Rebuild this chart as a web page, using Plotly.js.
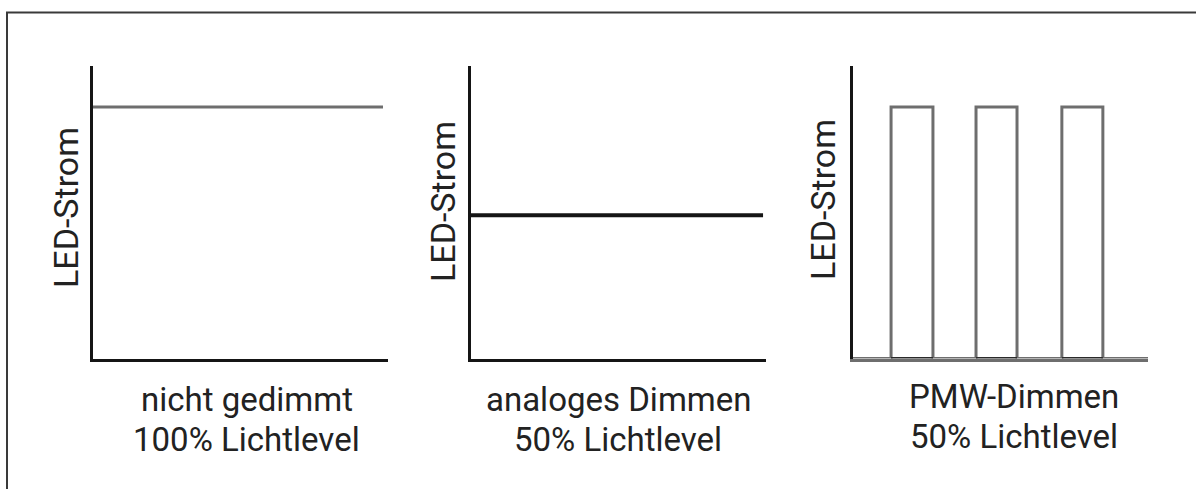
<!DOCTYPE html>
<html>
<head>
<meta charset="utf-8">
<script src="https://cdn.plot.ly/plotly-3.0.1.min.js"></script>
<style>html,body{margin:0;padding:0;background:#fff;}#chart{width:1196px;height:489px;}</style>
</head>
<body>
<div id="chart"></div>
<script>
// ---- data (axis scale 0..100) ----
const panelTitlesLine1 = ["nicht gedimmt", "analoges Dimmen", "PMW-Dimmen"];
const panelTitlesLine2 = ["100% Lichtlevel", "50% Lichtlevel", "50% Lichtlevel"];
const yLabel = "LED-Strom";

const fullX = [0, 98.3];
const fullY = [86, 86];

const analogX = [0, 99];
const analogY = [49, 49];

const pulseStart = [12.9, 41.7, 70.8];
const pulseEnd = [27.1, 55.6, 84.7];
const pulseHigh = 86;
const pulseLow = 0;
const pwmXmin = 0, pwmXmax = 100;

// build PWM waveform from pulse edges
const pwmX = [pwmXmin], pwmY = [pulseLow];
const botX = [], botY = [];
for (let i = 0; i < pulseStart.length; i++) {
  pwmX.push(pulseStart[i], pulseStart[i], pulseEnd[i], pulseEnd[i]);
  pwmY.push(pulseLow, pulseHigh, pulseHigh, pulseLow);
  botX.push(pulseStart[i], pulseEnd[i], null);
  botY.push(pulseLow, pulseLow, null);
}
pwmX.push(pwmXmax); pwmY.push(pulseLow);

const W = 1196, H = 489;
const px = v => v / W;
const py = v => 1 - v / H;

const gray = "#6e6e6e";
const ink = "#151515";
const textCol = "#222";
const FONT = "Roboto, 'Open Sans', sans-serif";

const traces = [
  {x: fullX, y: fullY, xaxis: "x", yaxis: "y", mode: "lines",
   line: {color: gray, width: 3}, hoverinfo: "skip"},
  {x: analogX, y: analogY, xaxis: "x2", yaxis: "y2", mode: "lines",
   line: {color: ink, width: 4}, hoverinfo: "skip"},
  {x: pwmX, y: pwmY, xaxis: "x3", yaxis: "y3", mode: "lines",
   line: {color: gray, width: 3}, hoverinfo: "skip", cliponaxis: false},
  {x: botX, y: botY, xaxis: "x3", yaxis: "y3", mode: "lines",
   line: {color: "#2a2a2a", width: 3}, hoverinfo: "skip", cliponaxis: false}
];

const yDom = [py(358.5), py(66)];
function xa(d, lineColor) {
  return {domain: d, range: [0, 100], showline: true, linecolor: lineColor, linewidth: 3,
    showgrid: false, zeroline: false, showticklabels: false, ticks: "", fixedrange: true,
    layer: "below traces"};
}
function ya(d) {
  return {domain: d, range: [0, 100], showline: true, linecolor: ink, linewidth: 3,
    showgrid: false, zeroline: false, showticklabels: false, ticks: "", fixedrange: true};
}

const labelX = [66, 443, 823];
const labelY = [208, 201, 200];
const line1X = [247, 619, 1014];
const line2X = [246, 618, 1014];
const line1Y = [399, 399, 396];
const line2Y = [439, 439, 436];

const annotations = [];
for (let i = 0; i < 3; i++) {
  annotations.push({xref: "paper", yref: "paper", x: px(labelX[i]), y: py(labelY[i]),
    text: yLabel, textangle: -90, showarrow: false, xanchor: "center", yanchor: "middle",
    font: {family: FONT, size: 34, color: textCol}});
  annotations.push({xref: "paper", yref: "paper", x: px(line1X[i]), y: py(line1Y[i]),
    text: panelTitlesLine1[i], showarrow: false, xanchor: "center", yanchor: "middle",
    font: {family: FONT, size: 33, color: textCol}});
  annotations.push({xref: "paper", yref: "paper", x: px(line2X[i]), y: py(line2Y[i]),
    text: panelTitlesLine2[i], showarrow: false, xanchor: "center", yanchor: "middle",
    font: {family: FONT, size: 33, color: textCol}});
}

const layout = {
  width: W, height: H,
  margin: {l: 0, r: 0, t: 0, b: 0},
  paper_bgcolor: "#fff", plot_bgcolor: "rgba(0,0,0,0)",
  showlegend: false,
  xaxis: xa([px(93), px(388)], ink),
  yaxis: ya(yDom),
  xaxis2: Object.assign(xa([px(471), px(766)], ink), {anchor: "y2"}),
  yaxis2: Object.assign(ya(yDom), {anchor: "x2"}),
  xaxis3: Object.assign(xa([px(853), px(1148)], gray), {anchor: "y3"}),
  yaxis3: Object.assign(ya(yDom), {anchor: "x3"}),
  annotations: annotations,
  shapes: [{type: "path", xref: "paper", yref: "paper",
    path: "M " + px(7) + "," + py(489) + " L " + px(7) + "," + py(12.5) + " L " + px(1196) + "," + py(12.5),
    line: {color: "#3a3a3a", width: 2}}]
};

Plotly.newPlot("chart", traces, layout, {displayModeBar: false, staticPlot: true});
</script>
</body>
</html>
